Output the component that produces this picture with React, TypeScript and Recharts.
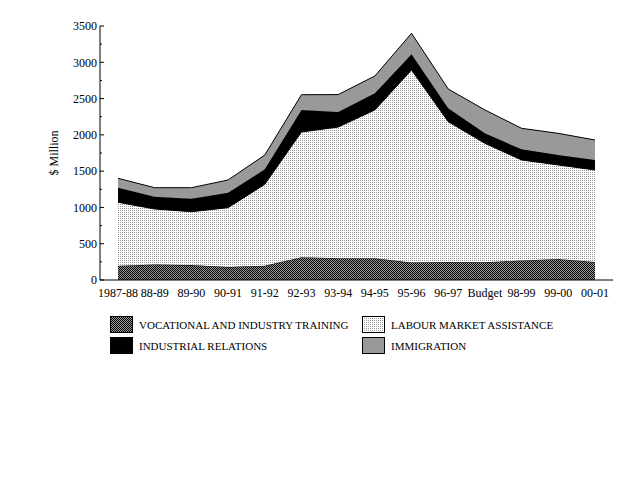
import { AreaChart, Area, XAxis, YAxis } from "recharts";

const years = [
  "1987-88", "88-89", "89-90", "90-91", "91-92", "92-93", "93-94",
  "94-95", "95-96", "96-97", "Budget", "98-99", "99-00", "00-01",
];
// $ million
const vocational = [195, 215, 205, 180, 195, 315, 300, 300, 240, 248, 243, 270, 290, 248];
const labourMarket = [876, 763, 736, 817, 1123, 1724, 1807, 2043, 2654, 1934, 1640, 1384, 1295, 1268];
const industrial = [201, 170, 180, 206, 207, 304, 208, 229, 216, 184, 138, 146, 137, 138];
const immigration = [129, 124, 151, 175, 197, 210, 240, 239, 289, 266, 322, 290, 299, 275];
const yTicks = [0, 250, 500, 750, 1000, 1250, 1500, 1750, 2000, 2250, 2500, 2750, 3000, 3250, 3500];

const data = years.map((year, i) => ({
  year,
  vocational: vocational[i],
  labourMarket: labourMarket[i],
  industrial: industrial[i],
  immigration: immigration[i],
}));

const series = [
  { key: "vocational", name: "VOCATIONAL AND INDUSTRY TRAINING", fill: "url(#vocPattern)" },
  { key: "labourMarket", name: "LABOUR MARKET ASSISTANCE", fill: "url(#lmaPattern)" },
  { key: "industrial", name: "INDUSTRIAL RELATIONS", fill: "#000000" },
  { key: "immigration", name: "IMMIGRATION", fill: "#999999" },
];

// legend order as in the picture: two columns
const legendOrder = ["vocational", "labourMarket", "industrial", "immigration"];

const font = "'Liberation Serif', 'Times New Roman', serif";

function YTick(props: any) {
  const { x, y, payload } = props;
  const major = payload.value % 500 === 0;
  return (
    <g>
      <line x1={x + 3} x2={x + 3 + (major ? 4 : 2)} y1={y} y2={y} stroke="#000" />
      {major && (
        <text x={x} y={y} dy="0.355em" textAnchor="end" fontSize={12} fontFamily={font} fill="#000">
          {payload.value}
        </text>
      )}
    </g>
  );
}

function Patterns() {
  return (
    <defs>
      <pattern id="vocPattern" width="2" height="2" patternUnits="userSpaceOnUse">
        <rect width="2" height="2" fill="#999999" />
        <rect x="0" y="0" width="1" height="1" fill="#000" />
        <rect x="1" y="1" width="1" height="1" fill="#000" />
      </pattern>
      <pattern id="lmaPattern" width="2" height="2" patternUnits="userSpaceOnUse">
        <rect width="2" height="2" fill="#ffffff" />
        <rect x="0" y="0" width="1" height="1" fill="#999999" />
      </pattern>
    </defs>
  );
}

function ChartLegend() {
  return (
    <div
      style={{
        position: "absolute",
        left: 110,
        top: 316,
        display: "grid",
        gridTemplateColumns: "252px 250px",
        rowGap: 4,
        fontFamily: font,
        fontSize: 11,
        color: "#000",
      }}
    >
      {legendOrder.map((k) => {
        const s = series.find((d) => d.key === k)!;
        return (
          <div key={k} style={{ display: "flex", alignItems: "center", height: 17 }}>
            <svg width={23} height={17} style={{ marginRight: 6, display: "block" }}>
              <rect x={0.5} y={0.5} width={22} height={16} fill={s.fill} stroke="#000" />
            </svg>
            <span>{s.name}</span>
          </div>
        );
      })}
    </div>
  );
}

export default function App() {
  return (
    <div style={{ position: "absolute", left: 0, top: 0, width: 640, height: 480, background: "#fff" }}>
      <AreaChart
        width={640}
        height={480}
        data={data}
        margin={{ top: 26, right: 27, left: 40, bottom: 170 }}
      >
        <Patterns />
        <XAxis
          dataKey="year"
          interval={0}
          padding={{ left: 18, right: 18 }}
          tickLine={false}
          axisLine={{ stroke: "#000" }}
          tick={{ fontSize: 12, fontFamily: font, fill: "#000" }}
          height={30}
        />
        <XAxis
          xAxisId="top"
          dataKey="year"
          orientation="top"
          tick={false}
          tickLine={false}
          axisLine={{ stroke: "#000" }}
          height={0}
        />
        <YAxis
          domain={[0, 3500]}
          ticks={yTicks}
          interval={0}
          tickSize={0}
          tickMargin={3}
          tickLine={false}
          axisLine={{ stroke: "#000" }}
          tick={<YTick />}
          width={60}
          label={{
            value: "$ Million",
            angle: -90,
            position: "insideLeft",
            offset: 14,
            style: { textAnchor: "middle", fontSize: 12, fontFamily: font, fill: "#000" },
          }}
        />
        <YAxis
          yAxisId="right"
          orientation="right"
          domain={[0, 3500]}
          tick={false}
          tickLine={false}
          axisLine={{ stroke: "#000" }}
          width={0}
        />
        {series.map((s) => (
          <Area
            key={s.key}
            type="linear"
            dataKey={s.key}
            name={s.name}
            stackId="1"
            stroke="#000"
            strokeWidth={1}
            fill={s.fill}
            fillOpacity={1}
            isAnimationActive={false}
          />
        ))}
      </AreaChart>
      <ChartLegend />
    </div>
  );
}
